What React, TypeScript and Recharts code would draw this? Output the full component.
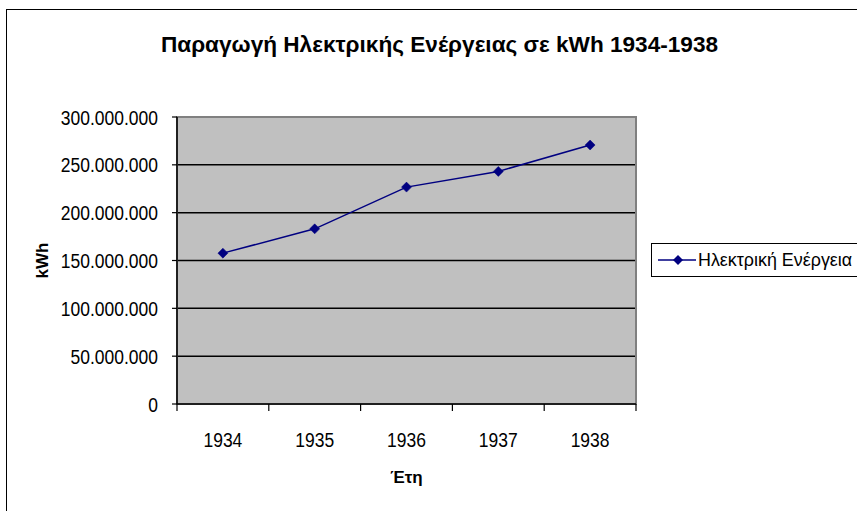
import React from 'react';
import { LineChart, Line, XAxis, YAxis, CartesianGrid, Legend, ReferenceArea } from 'recharts';

const years = [1934, 1935, 1936, 1937, 1938];
const energyKWh = [157700000, 183100000, 226700000, 243100000, 270700000];
const seriesName = 'Ηλεκτρική Ενέργεια';
const yTicks = [0, 50000000, 100000000, 150000000, 200000000, 250000000, 300000000];
const xBoundaryTicks = [1933.5, 1934.5, 1935.5, 1936.5, 1937.5, 1938.5];
const titleText = 'Παραγωγή Ηλεκτρικής Ενέργειας σε kWh 1934-1938';
const xTitle = 'Έτη';
const yTitle = 'kWh';

const data = years.map((y, i) => ({ year: y, value: energyKWh[i] }));
const xTicks = [...xBoundaryTicks, ...years].sort((a, b) => a - b);

const FONT = '"Liberation Sans", Arial, sans-serif';
const NAVY = '#000080';
const STRETCH = 1.2;

const fmt = (n: number) => String(n).replace(/\B(?=(\d{3})+(?!\d))/g, '.');

const Diamond = (props: any) => {
  const { cx, cy } = props;
  if (cx == null || cy == null) return null;
  const r = 5;
  return <polygon points={`${cx},${cy - r} ${cx + r},${cy} ${cx},${cy + r} ${cx - r},${cy}`} fill={NAVY} stroke={NAVY} strokeWidth={0.5} />;
};

const XTick = (props: any) => {
  const { x, y, payload } = props;
  const v = payload.value;
  if (Math.abs(v - Math.round(v)) > 0.01) {
    return <line x1={x} y1={y} x2={x} y2={y + 7} stroke="#000" strokeWidth={1.2} />;
  }
  return (
    <text transform={`translate(${x} ${y + 42.5}) scale(1 ${STRETCH})`} x={0} y={0} textAnchor="middle" fontFamily={FONT} fontSize={17.5} fill="#000">
      {v}
    </text>
  );
};

const YTick = (props: any) => {
  const { x, y, payload } = props;
  return (
    <text transform={`translate(${x - 3} ${y + 7.5}) scale(1 ${STRETCH})`} x={0} y={0} textAnchor="end" fontFamily={FONT} fontSize={17.5} fill="#000">
      {fmt(payload.value)}
    </text>
  );
};

const LegendBox = () => (
  <div
    style={{
      border: '1px solid #000',
      background: '#fff',
      height: 34,
      width: 240,
      display: 'flex',
      alignItems: 'center',
      boxSizing: 'border-box',
      fontFamily: FONT,
      fontSize: 17.9,
      color: '#000',
      whiteSpace: 'nowrap',
    }}
  >
    <svg width={46} height={20} style={{ flex: 'none' }}>
      <line x1={6} y1={10} x2={44} y2={10} stroke={NAVY} strokeWidth={1.5} />
      <polygon points="26,5 31,10 26,15 21,10" fill={NAVY} />
    </svg>
    <span>{seriesName}</span>
  </div>
);

export default function App() {
  return (
    <div style={{ position: 'absolute', left: 0, top: 0, width: 857, height: 511, overflow: 'hidden', background: '#fff' }}>
      <div style={{ position: 'absolute', left: 6, top: 9, width: 900, height: 600, border: '1px solid #000', boxSizing: 'border-box' }} />
      <div
        style={{
          position: 'absolute',
          left: 0,
          width: 879,
          top: 31,
          textAlign: 'center',
          fontFamily: FONT,
          fontWeight: 'bold',
          fontSize: 22.6,
          lineHeight: '28px',
          color: '#000',
          whiteSpace: 'nowrap',
        }}
      >
        {titleText}
      </div>
      <div style={{ position: 'absolute', left: 0, top: 0 }}>
        <LineChart width={857} height={511} data={data} margin={{ top: 117, right: 221, bottom: 0, left: 0 }}>
          <CartesianGrid vertical={false} fill="#c0c0c0" stroke="#000" strokeWidth={1.5} />
          <ReferenceArea x1={1933.5} x2={1938.5} y1={0} y2={300000000} fill="none" stroke="#808080" strokeWidth={2} ifOverflow="visible" />
          <XAxis
            dataKey="year"
            type="number"
            domain={[1933.5, 1938.5]}
            ticks={xTicks}
            interval={0}
            tick={<XTick />}
            tickLine={false}
            tickSize={0}
            tickMargin={0}
            height={107}
            axisLine={{ stroke: '#000', strokeWidth: 1.5 }}
            label={(p: any) => {
              const vb = p.viewBox;
              return (
                <text x={vb.x + vb.width / 2} y={483} textAnchor="middle" fontFamily={FONT} fontWeight="bold" fontSize={17} fill="#000">
                  {xTitle}
                </text>
              );
            }}
          />
          <YAxis
            type="number"
            domain={[0, 300000000]}
            ticks={yTicks}
            interval={0}
            width={177}
            tickSize={5}
            tickMargin={11}
            tick={<YTick />}
            tickLine={{ stroke: '#000', strokeWidth: 1.2 }}
            axisLine={{ stroke: '#000', strokeWidth: 1.5 }}
            label={(p: any) => {
              const vb = p.viewBox;
              const cx = 42;
              const cy = vb.y + vb.height / 2;
              return (
                <text x={cx} y={cy} transform={`rotate(-90 ${cx} ${cy})`} textAnchor="middle" dominantBaseline="central" fontFamily={FONT} fontWeight="bold" fontSize={17} fill="#000">
                  {yTitle}
                </text>
              );
            }}
          />
          <Legend
            layout="horizontal"
            verticalAlign="middle"
            align="center"
            content={() => <LegendBox />}
            wrapperStyle={{ left: 651, top: 243, width: 240 }}
          />
          <Line
            type="linear"
            dataKey="value"
            name={seriesName}
            stroke={NAVY}
            strokeWidth={1.5}
            dot={<Diamond />}
            activeDot={false}
            isAnimationActive={false}
          />
        </LineChart>
      </div>
    </div>
  );
}
